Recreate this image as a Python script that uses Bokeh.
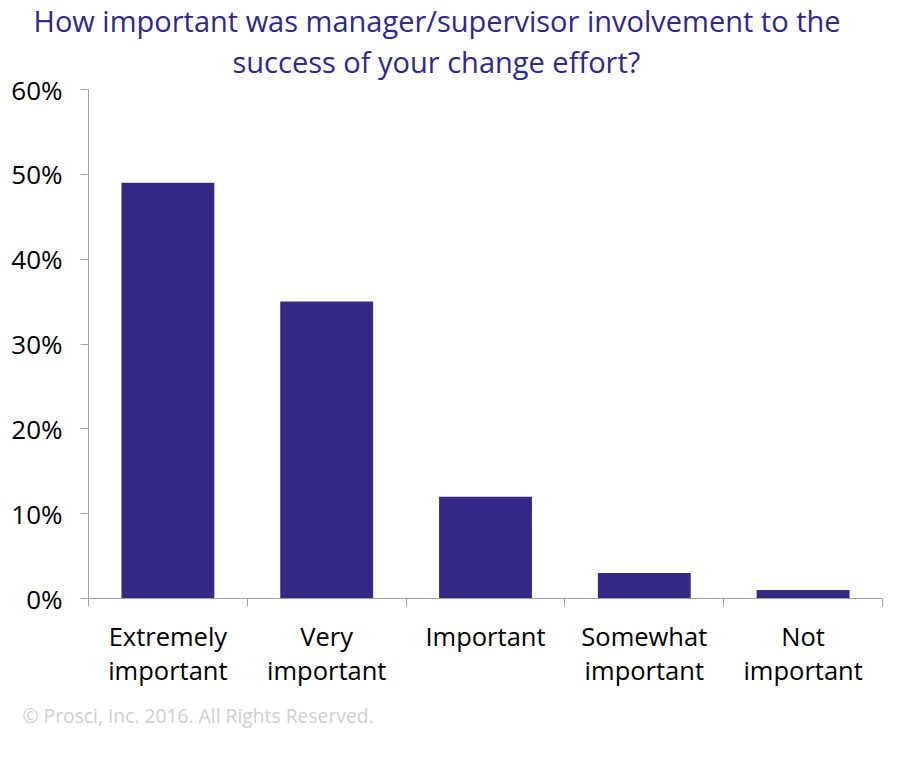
from bokeh.plotting import figure
from bokeh.models import Range1d, FixedTicker, NumeralTickFormatter, Title, ColumnDataSource
from bokeh.embed import file_html
from bokeh.resources import INLINE

categories = ["Extremely\nimportant", "Very\nimportant", "Important", "Somewhat\nimportant", "Not\nimportant"]
values = [0.49, 0.35, 0.12, 0.03, 0.01]
y_ticks = [0, 0.1, 0.2, 0.3, 0.4, 0.5, 0.6]
title_lines = ["How important was manager/supervisor involvement to the", "success of your change effort?"]
footer = "\u00a9 Prosci, Inc. 2016. All Rights Reserved."

xs = [i + 0.5 for i in range(len(categories))]
src = ColumnDataSource(dict(x=xs, top=values))

p = figure(width=900, height=760, output_backend="svg", toolbar_location=None,
           x_range=Range1d(0, len(categories)), y_range=Range1d(0, 0.6),
           min_border_left=88, min_border_right=18, min_border_top=89, min_border_bottom=162)
p.background_fill_color = "white"
p.border_fill_color = "white"
p.outline_line_color = None
p.grid.visible = False

p.vbar(x="x", top="top", width=0.585, source=src, fill_color="#342a85", line_color=None)

AX = "#a0a0a0"
FONT = "Open Sans"

xa = p.xaxis[0]
xa.ticker = FixedTicker(ticks=xs, minor_ticks=list(range(len(categories) + 1)))
xa.major_label_overrides = {x: c for x, c in zip(xs, categories)}
xa.major_tick_out = 0
xa.major_tick_in = 0
xa.minor_tick_out = 8
xa.minor_tick_in = 0
xa.minor_tick_line_color = AX
xa.axis_line_color = AX
xa.major_label_text_font = FONT
xa.major_label_text_font_size = "25.5px"
xa.major_label_text_line_height = 1.0
xa.major_label_text_color = "black"
xa.major_label_standoff = 12

ya = p.yaxis[0]
ya.ticker = FixedTicker(ticks=y_ticks, minor_ticks=[])
ya.formatter = NumeralTickFormatter(format="0%")
ya.major_tick_out = 8
ya.major_tick_in = 0
ya.major_tick_line_color = AX
ya.axis_line_color = AX
ya.major_label_text_font = FONT
ya.major_label_text_font_size = "26px"
ya.major_label_text_color = "black"
ya.major_label_standoff = 18

TITLE_COLOR = "#30288a"
p.title = None
# second line first (closest to the plot), then first line above it
for line, off, sd in [(title_lines[1], 144, 17), (title_lines[0], -55, -16)]:
    p.add_layout(Title(text=line, align="left", offset=off, text_font=FONT, text_font_size="29px",
                       text_font_style="normal", text_color=TITLE_COLOR, standoff=sd), "above")

p.add_layout(Title(text=footer, align="left", offset=-66, text_font=FONT, text_font_size="19.3px",
                   text_font_style="normal", text_color="#d0d0d0", standoff=20), "below")

open("out.html", "w").write(file_html(p, INLINE))
